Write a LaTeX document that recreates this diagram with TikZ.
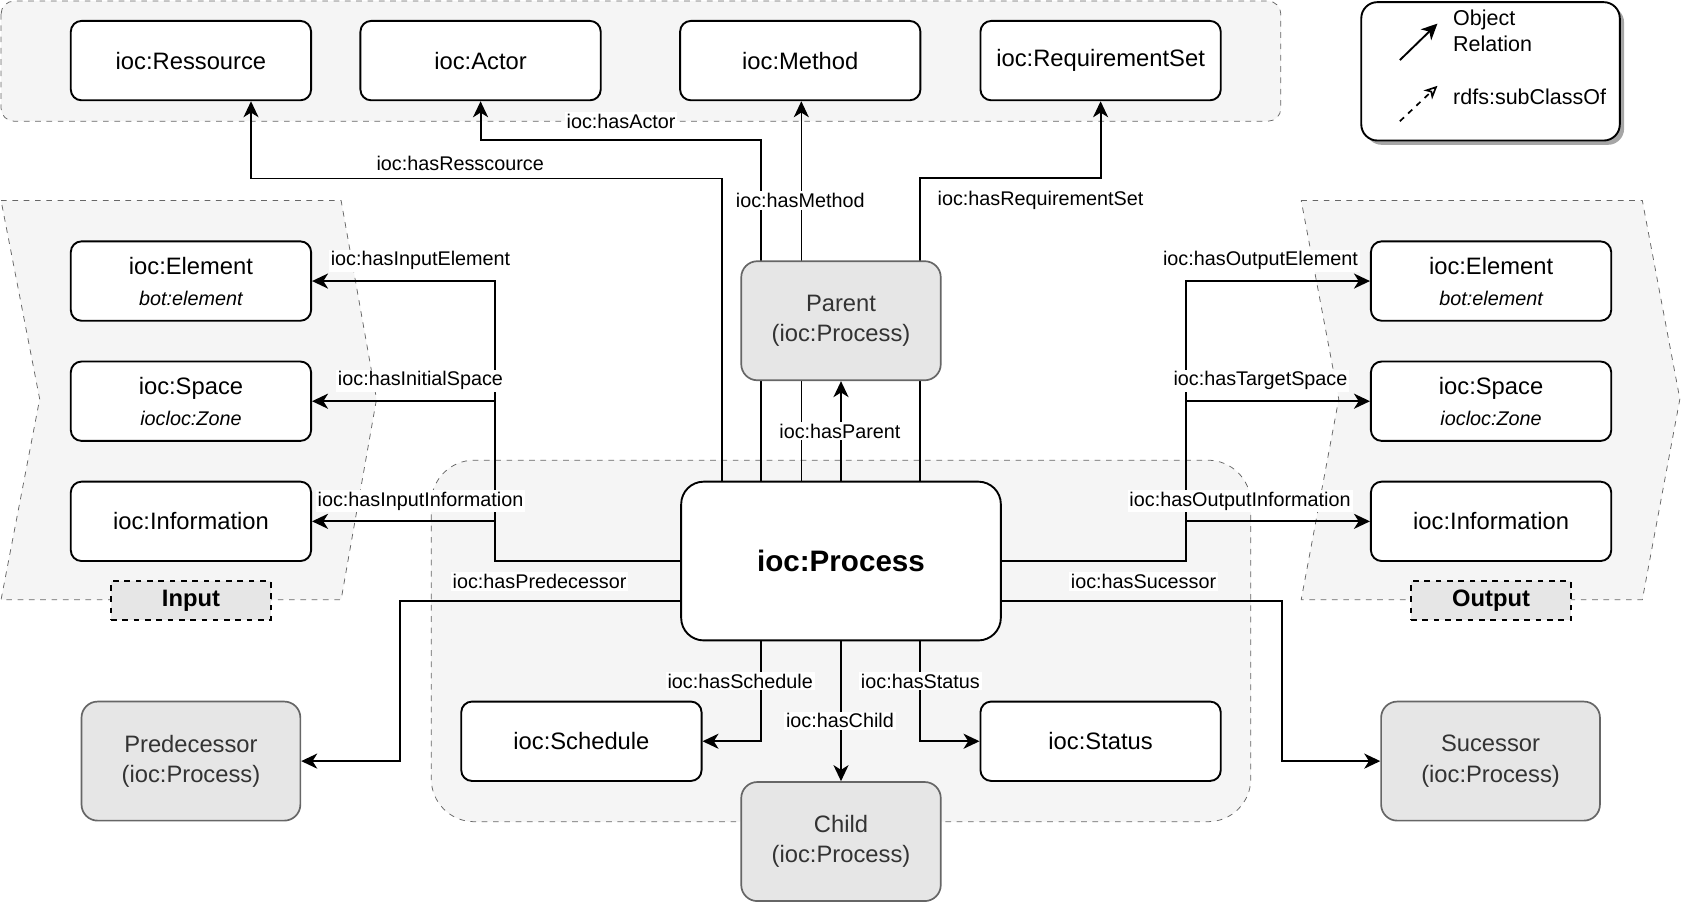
\documentclass[tikz,border=0pt]{standalone}
\usepackage{fontspec}
\setmainfont{Liberation Sans}
\usetikzlibrary{arrows.meta,shadows}

\definecolor{grpfill}{HTML}{F5F5F5}
\definecolor{grpdraw}{HTML}{666666}
\definecolor{instfill}{HTML}{E6E6E6}
\definecolor{insttext}{HTML}{333333}

\pgfdeclarelayer{back}
\pgfdeclarelayer{wires}
\pgfsetlayers{back,wires,main}

\newcommand{\subcls}[1]{{\fontsize{10.5}{16.4}\selectfont\itshape #1}}

\tikzset{
    cls/.style={
           rectangle,
           rounded corners=0.2cm,
           draw=black, line width=1pt,
           fill=white,
           minimum width=4.48cm,
           minimum height=1.48cm,
           inner sep=2pt,
           align=center,
           font=\fontsize{12.6}{16.4}\selectfont,
           },
    inst/.style={
           rectangle,
           rounded corners=0.3cm,
           draw=grpdraw, line width=0.9pt,
           fill=instfill,
           text=insttext,
           minimum width=3.72cm,
           minimum height=2.22cm,
           align=center,
           font=\fontsize{12.6}{16}\selectfont,
           },
    proc/.style={
           rectangle,
           rounded corners=0.42cm,
           draw=black, line width=1pt,
           fill=white,
           minimum width=5.96cm,
           minimum height=2.96cm,
           font=\fontsize{15.7}{19}\selectfont\bfseries,
           },
    tag/.style={
           rectangle,
           draw=black, line width=1pt, dashed,
           fill=instfill,
           minimum width=2.98cm,
           minimum height=0.72cm,
           font=\fontsize{12.6}{15}\selectfont\bfseries,
           },
    group/.style={
           draw=grpdraw, dashed,
           fill=grpfill,
           },
    rel/.style={
           -{Stealth[length=8.5pt,width=8pt,inset=2.5pt]},
           line width=1pt,
           },
    lbl/.style={
           fill=white,
           inner sep=1pt,
           font=\fontsize{10.5}{12}\selectfont,
           },
}

\begin{document}
\begin{tikzpicture}
    \useasboundingbox (0,0) rectangle (31.36,-16.82);

    % containers behind everything
    \begin{pgfonlayer}{back}
    \draw[group, rounded corners=0.24cm] (0.02,-0.02) rectangle (23.88,-2.26);
    \draw[group] (0.02,-3.74) -- (6.36,-3.74) -- (7.02,-7.44) -- (6.36,-11.18)
        -- (0.02,-11.18) -- (0.74,-7.44) -- cycle;
    \draw[group] (24.26,-3.74) -- (30.62,-3.74) -- (31.32,-7.44) -- (30.62,-11.18)
        -- (24.26,-11.18) -- (24.96,-7.44) -- cycle;
    \draw[group, rounded corners=0.8cm] (8.04,-8.58) rectangle (23.32,-15.32);
    \end{pgfonlayer}

    % Process in the middle
    \node[proc] (proc) at (15.68,-10.46) {ioc:Process};

    \node[inst,          % gray process box
    above of=proc,
    node distance=4.48cm] (par)
    {Parent\\(ioc:Process)};

    \node[inst,
    below of=proc,
    node distance=5.23cm] (chi)
    {Child\\(ioc:Process)};

    % top row
    \node[cls] (res) at (3.56,-1.13) {ioc:Ressource};
    \node[cls, right of=res, node distance=5.4cm] (act) {ioc:Actor};
    \node[cls, right of=act, node distance=5.96cm] (meth) {ioc:Method};
    \node[cls, right of=meth, node distance=5.6cm] (req) {ioc:RequirementSet};

    % input side
    \node[cls] (inel) at (3.56,-5.24) {ioc:Element\\\subcls{bot:element}};
    \node[cls, below of=inel, node distance=2.24cm] (insp) {ioc:Space\\\subcls{iocloc:Zone}};
    \node[cls, below of=insp, node distance=2.24cm] (ininf) {ioc:Information};
    \node[tag, below of=ininf, node distance=1.48cm] (intag) {Input};

    % output side
    \node[cls, right of=inel, node distance=24.24cm] (outel) {ioc:Element\\\subcls{bot:element}};
    \node[cls, right of=insp, node distance=24.24cm] (outsp) {ioc:Space\\\subcls{iocloc:Zone}};
    \node[cls, right of=ininf, node distance=24.24cm] (outinf) {ioc:Information};
    \node[tag, below of=outinf, node distance=1.48cm] (outtag) {Output};

    % bottom row
    \node[inst, minimum width=4.08cm] (pred) at (3.56,-14.19) {Predecessor\\(ioc:Process)};
    \node[inst, minimum width=4.08cm, right of=pred, node distance=24.23cm] (suc) {Sucessor\\(ioc:Process)};
    \node[cls] (sch) at (10.84,-13.82) {ioc:Schedule};
    \node[cls, right of=sch, node distance=9.68cm] (sta) {ioc:Status};

    % legend
    \node[rectangle, rounded corners=0.3cm, draw=black, line width=1pt, fill=white,
    drop shadow={shadow xshift=0.08cm, shadow yshift=-0.08cm, fill=black!35, opacity=1},
    minimum width=4.82cm, minimum height=2.58cm] (legend) at (27.79,-1.33) {};
    \coordinate (objfrom) at (26.1,-1.12);
    \coordinate (objto) at (26.8,-0.44);
    \coordinate (subfrom) at (26.1,-2.26);
    \coordinate (subto) at (26.8,-1.6);
    \draw[rel] (objfrom) -- (objto);
    \draw[line width=0.9pt, dash pattern=on 3pt off 3pt,
        -{Stealth[open,length=7pt,width=6.5pt,inset=2pt]}] (subfrom) -- (subto);
    \node[anchor=west, align=left, font=\fontsize{11.4}{13.6}\selectfont] (objtxt)
        at (26.97,-0.58) {Object\\Relation};
    \node[anchor=west, font=\fontsize{11.4}{13.6}\selectfont] (subtxt)
        at (26.97,-1.8) {rdfs:subClassOf};

    % helper points for the branching wires
    \coordinate (mtop) at ([xshift=-0.74cm]proc.north);
    \coordinate (injoin) at ([xshift=-3.46cm]proc.west);
    \coordinate (outjoin) at ([xshift=3.44cm]proc.east);

    % relations
    \begin{pgfonlayer}{wires}
    \draw[rel, line width=0.7pt] ([xshift=-2.22cm]proc.north) -- ++(0,5.64) -| ([xshift=1.12cm]res.south);
    \draw[rel] ([xshift=-1.5cm]proc.north) -- ++(0,6.36) -| (act.south);
    \draw[rel, line width=0.7pt] (mtop) -- (mtop |- meth.south);
    \draw[rel] ([xshift=1.48cm]proc.north) -- ++(0,5.64) -| (req.south);
    \draw[rel] (proc.north) -- (par.south);

    \draw[rel] (proc.west) -- (injoin) |- (inel.east);
    \draw[rel] (injoin |- insp.east) -- (insp.east);
    \draw[rel] (injoin |- ininf.east) -- (ininf.east);

    \draw[rel] (proc.east) -- (outjoin) |- (outel.west);
    \draw[rel] (outjoin |- outsp.west) -- (outsp.west);
    \draw[rel] (outjoin |- outinf.west) -- (outinf.west);

    \draw[rel] ([yshift=-0.74cm]proc.west) -- ++(-5.22,0) |- (pred.east);
    \draw[rel] ([yshift=-0.74cm]proc.east) -- ++(5.22,0) |- (suc.west);

    \draw[rel] ([xshift=-1.5cm]proc.south) |- (sch.east);
    \draw[rel] ([xshift=1.48cm]proc.south) |- (sta.west);
    \draw[rel] (proc.south) -- (chi.north);
    \end{pgfonlayer}

    % relation names
    \node[lbl] (lres) at (8.58,-3.04) {ioc:hasResscource};
    \node[lbl] (lact) at (11.58,-2.26) {ioc:hasActor};
    \node[lbl] (lmeth) at (14.92,-3.74) {ioc:hasMethod};
    \node[lbl] (lreq) at (19.4,-3.74) {ioc:hasRequirementSet};
    \node[lbl] (lpar) at (15.66,-8.04) {ioc:hasParent};
    \node[lbl] (linel) at (7.84,-4.86) {ioc:hasInputElement};
    \node[lbl] (linsp) at (7.84,-7.1) {ioc:hasInitialSpace};
    \node[lbl] (lininf) at (7.84,-9.34) {ioc:hasInputInformation};
    \node[lbl] (loutel) at (23.5,-4.86) {ioc:hasOutputElement};
    \node[lbl] (loutsp) at (23.5,-7.1) {ioc:hasTargetSpace};
    \node[lbl] (loutinf) at (23.12,-9.34) {ioc:hasOutputInformation};
    \node[lbl] (lpred) at (10.06,-10.84) {ioc:hasPredecessor};
    \node[lbl] (lsuc) at (21.32,-10.84) {ioc:hasSucessor};
    \node[lbl] (lsch) at (13.8,-12.7) {ioc:hasSchedule};
    \node[lbl] (lsta) at (17.16,-12.7) {ioc:hasStatus};
    \node[lbl] (lchi) at (15.66,-13.44) {ioc:hasChild};
\end{tikzpicture}
\end{document}
